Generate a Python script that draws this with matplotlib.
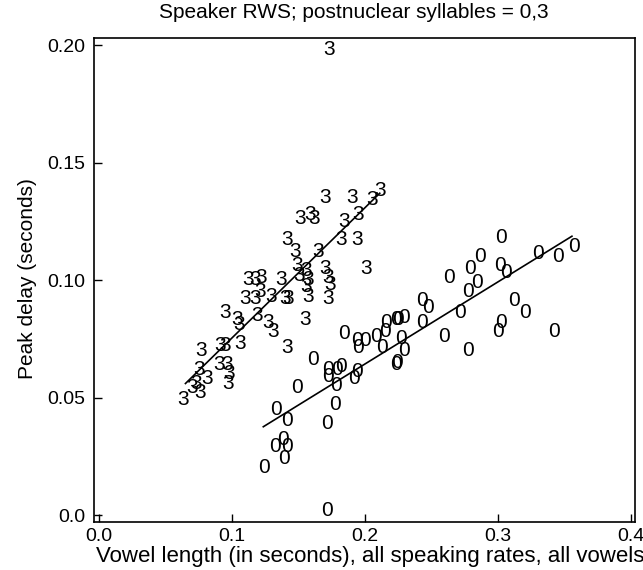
import matplotlib
matplotlib.use('Agg')
import matplotlib.pyplot as plt
import numpy as np

plt.rcParams['font.family'] = ['Liberation Sans', 'DejaVu Sans']

# vowel length (s) / peak delay (s), postnuclear syllables = 3
x3 = [0.173, 0.170, 0.190, 0.211, 0.205, 0.151, 0.159, 0.162, 0.184, 0.195,
      0.141, 0.147, 0.165, 0.182, 0.194, 0.201, 0.149, 0.150, 0.156, 0.157,
      0.156, 0.157, 0.170, 0.172, 0.174, 0.172, 0.112, 0.117, 0.122, 0.137,
      0.110, 0.117, 0.121, 0.129, 0.140, 0.142, 0.119, 0.095, 0.104, 0.105,
      0.127, 0.131, 0.155, 0.141, 0.077, 0.091, 0.095, 0.106, 0.090, 0.096,
      0.098, 0.097, 0.075, 0.081, 0.073, 0.070, 0.076, 0.063]
y3 = [0.199, 0.136, 0.136, 0.139, 0.135, 0.127, 0.129, 0.127, 0.126, 0.129,
      0.118, 0.113, 0.113, 0.118, 0.118, 0.106, 0.107, 0.103, 0.105, 0.101,
      0.098, 0.094, 0.106, 0.102, 0.099, 0.093, 0.101, 0.101, 0.102, 0.101,
      0.093, 0.093, 0.096, 0.094, 0.093, 0.093, 0.086, 0.087, 0.084, 0.082,
      0.083, 0.079, 0.084, 0.072, 0.071, 0.073, 0.073, 0.074, 0.065, 0.065,
      0.061, 0.057, 0.063, 0.059, 0.057, 0.055, 0.053, 0.050]

# postnuclear syllables = 0
x0 = [0.302, 0.286, 0.279, 0.263, 0.284, 0.277, 0.301, 0.306, 0.330, 0.345,
      0.357, 0.312, 0.320, 0.302, 0.300, 0.342, 0.243, 0.247, 0.243, 0.271,
      0.259, 0.277, 0.216, 0.215, 0.223, 0.225, 0.229, 0.227, 0.229, 0.224,
      0.223, 0.208, 0.213, 0.184, 0.194, 0.195, 0.200, 0.161, 0.172, 0.179,
      0.182, 0.172, 0.178, 0.194, 0.192, 0.149, 0.177, 0.171, 0.133, 0.141,
      0.138, 0.132, 0.141, 0.139, 0.124, 0.171]
y0 = [0.119, 0.111, 0.106, 0.102, 0.100, 0.096, 0.107, 0.104, 0.112, 0.111,
      0.115, 0.092, 0.087, 0.083, 0.079, 0.079, 0.092, 0.089, 0.083, 0.087,
      0.077, 0.071, 0.083, 0.079, 0.084, 0.084, 0.085, 0.076, 0.071, 0.066,
      0.065, 0.077, 0.072, 0.078, 0.075, 0.072, 0.075, 0.067, 0.063, 0.063,
      0.064, 0.060, 0.056, 0.062, 0.059, 0.055, 0.048, 0.040, 0.046, 0.041,
      0.033, 0.030, 0.030, 0.025, 0.021, 0.003]

# regression line end points
fit3_x = [0.065, 0.211]
fit3_y = [0.056, 0.137]
fit0_x = [0.1235, 0.3554]
fit0_y = [0.0376, 0.1187]

xticks = [0.0, 0.1, 0.2, 0.3, 0.4]
xlabels = ['0.0', '0.1', '0.2', '0.3', '0.4']
yticks = [0.0, 0.05, 0.10, 0.15, 0.20]
ylabels = ['0.0', '0.05', '0.10', '0.15', '0.20']

fig = plt.figure(figsize=(6.43, 5.70), dpi=100)
ax = fig.add_axes([0.146, 0.084, 0.842, 0.849])

for xx, yy in zip(x3, y3):
    ax.text(xx, yy, '3', ha='center', va='center_baseline', fontsize=15, color='black')
for xx, yy in zip(x0, y0):
    ax.text(xx, yy, '0', ha='center', va='center_baseline', fontsize=15, color='black')

ax.plot(fit3_x, fit3_y, color='black', lw=1.2)
ax.plot(fit0_x, fit0_y, color='black', lw=1.2)

ax.set_xlim(-0.0038, 0.403)
ax.set_ylim(-0.003, 0.203)
ax.set_xticks(xticks)
ax.set_xticklabels(xlabels)
ax.set_yticks(yticks)
ax.set_yticklabels(ylabels)
ax.tick_params(direction='in', length=6, width=1, labelsize=14)
ax.tick_params(axis='y', pad=6)
ax.tick_params(axis='x', pad=4)
for s in ax.spines.values():
    s.set_linewidth(1.2)

fig.text(0.551, 0.978, 'Speaker RWS; postnuclear syllables = 0,3',
         ha='center', va='center', fontsize=15)
fig.text(0.575, 0.024, 'Vowel length (in seconds), all speaking rates, all vowels',
         ha='center', va='center', fontsize=16)
fig.text(0.042, 0.511, 'Peak delay (seconds)', rotation=90,
         ha='center', va='center', fontsize=15)

fig.savefig('out.png', dpi=100)
